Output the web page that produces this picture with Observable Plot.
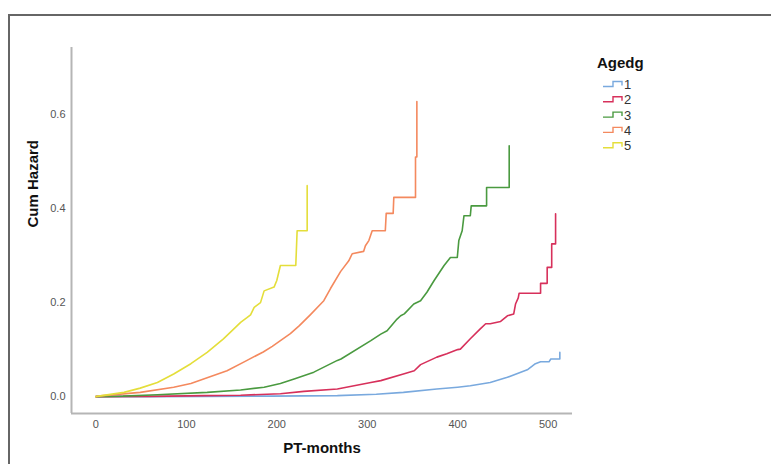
<!DOCTYPE html>
<html>
<head>
<meta charset="utf-8">
<script src="https://cdn.jsdelivr.net/npm/d3@7"></script>
<script src="https://cdn.jsdelivr.net/npm/@observablehq/plot@0.6"></script>
<style>
  html, body { margin: 0; padding: 0; background: #fff; }
  #wrap { position: relative; width: 771px; height: 464px; overflow: hidden; font-family: "Liberation Sans", Arial, sans-serif; }
  #border { position: absolute; left: 8px; top: 14px; right: -10px; bottom: -10px; border-left: 2px solid #666; border-top: 2px solid #666; }
  #chart { position: absolute; left: 0; top: 0; }
  #legend { position: absolute; left: 0; top: 0; }
</style>
</head>
<body>
<div id="wrap">
  <div id="border"></div>
  <div id="chart"></div>
  <svg id="legend" width="771" height="464"></svg>
</div>
<script>
// ---- data ----
const groups = ["1", "2", "3", "4", "5"];
const groupColors = ["#79a9de", "#d7305b", "#4a9a40", "#f4895e", "#e4de3a"];
const legendTitle = "Agedg";
const xLabel = "PT-months";
const yLabel = "Cum Hazard";
const xTicks = [0, 100, 200, 300, 400, 500];
const yTicks = [0, 0.2, 0.4, 0.6];
const xDomain = [-27, 527];
const yDomain = [-0.036, 0.743];

const g1 = [[0,0],[60,0],[120,0.0005],[193,0.001],[267,0.002],[310,0.005],[340,0.009],[377,0.016],[400,0.02],[414,0.023],[436,0.030],[455,0.041],[477,0.057],[486,0.070],[491.7,0.074],[501,0.074],[503,0.080],[513,0.080],[513,0.094]];
const g2 = [[0,0],[60,0.0005],[120,0.002],[160,0.003],[204,0.006],[230,0.011],[267,0.016],[304,0.030],[315,0.034],[340,0.048],[352,0.055],[359,0.068],[377,0.084],[388,0.091],[400,0.1],[403,0.101],[414,0.123],[425,0.144],[431,0.155],[436,0.155],[447.5,0.16],[455,0.172],[462,0.176],[464,0.197],[467,0.21],[468,0.22],[491.7,0.22],[491.7,0.241],[499,0.241],[499,0.275],[504,0.275],[504,0.325],[508.3,0.325],[508.3,0.389]];
const g3 = [[0,0],[30,0.001],[68,0.004],[123,0.009],[160,0.014],[186,0.02],[204,0.028],[220,0.038],[241,0.052],[267,0.077],[271,0.08],[304,0.119],[315,0.133],[322,0.140],[333,0.165],[337,0.172],[341,0.176],[351.5,0.197],[359,0.204],[366,0.222],[374,0.247],[385,0.279],[392,0.296],[399.6,0.296],[401.3,0.332],[405,0.353],[407,0.385],[414,0.385],[415,0.406],[432,0.406],[432,0.445],[457,0.445],[457,0.534]];
const g4 = [[0,0],[5,0.0015],[49,0.009],[86,0.02],[105,0.028],[123,0.040],[145,0.055],[165,0.075],[185,0.095],[195,0.107],[204,0.119],[215,0.134],[225,0.151],[237,0.174],[252,0.204],[259.4,0.23],[270.5,0.266],[279.6,0.289],[283.4,0.304],[296,0.309],[298,0.321],[301.8,0.332],[305.5,0.353],[320,0.353],[321,0.39],[328.7,0.39],[329.4,0.424],[353.4,0.424],[353.4,0.51],[354.9,0.51],[354.9,0.628]];
const g5 = [[0,0],[3,0.001],[31,0.009],[49,0.018],[68,0.030],[86,0.048],[105,0.070],[123,0.094],[141,0.123],[152,0.143],[160,0.158],[167,0.168],[171,0.174],[175,0.19],[182,0.2],[186,0.225],[197,0.233],[200,0.247],[204,0.279],[221,0.279],[222.5,0.353],[233.6,0.353],[233.6,0.449]];
const series = [g1, g2, g3, g4, g5];

const rows = series.flatMap((s, i) => s.map(([t, h]) => ({group: groups[i], t, h})));

const chart = Plot.plot({
  width: 771,
  height: 464,
  marginLeft: 71,
  marginRight: 199,
  marginTop: 47,
  marginBottom: 51,
  style: {fontFamily: "'Liberation Sans', Arial, sans-serif", background: "transparent"},
  x: {domain: xDomain},
  y: {domain: yDomain},
  color: {domain: groups, range: groupColors},
  marks: [
    Plot.ruleX([xDomain[0]], {stroke: "#b5b5b5", strokeWidth: 2}),
    Plot.ruleY([yDomain[0]], {stroke: "#b5b5b5", strokeWidth: 2}),
    Plot.axisX(xTicks, {tickSize: 0, tickPadding: 7, fontSize: 11, fill: "#555", label: null}),
    Plot.axisY(yTicks, {tickSize: 0, tickPadding: 6, fontSize: 11, fill: "#555", label: null, tickFormat: d3.format(".1f")}),
    Plot.line(rows, {x: "t", y: "h", z: "group", stroke: "group", strokeWidth: 1.6}),
    Plot.text([xLabel], {text: d => d, frameAnchor: "bottom", dy: 39, fontSize: 15, fontWeight: "bold", fill: "#111"}),
    Plot.text([yLabel], {text: d => d, frameAnchor: "left", dx: -38, dy: -3, rotate: -90, fontSize: 15, fontWeight: "bold", fill: "#111"})
  ]
});
document.getElementById("chart").append(chart);

// ---- legend ----
const lg = d3.select("#legend");
lg.append("text").attr("x", 597).attr("y", 68).attr("font-size", 15).attr("font-weight", "bold")
  .attr("font-family", "'Liberation Sans', Arial, sans-serif").attr("fill", "#111").text(legendTitle);
groups.forEach((g, i) => {
  const y = 84 + i * 15.3;
  lg.append("path").attr("d", `M603,${y + 2.5}H613V${y - 2.5}H622V${y + 1.5}`)
    .attr("fill", "none").attr("stroke", groupColors[i]).attr("stroke-width", 1.4);
  lg.append("text").attr("x", 624).attr("y", y + 5).attr("font-size", 13)
    .attr("font-family", "'Liberation Sans', Arial, sans-serif").attr("fill", "#333").text(g);
});
</script>
</body>
</html>
